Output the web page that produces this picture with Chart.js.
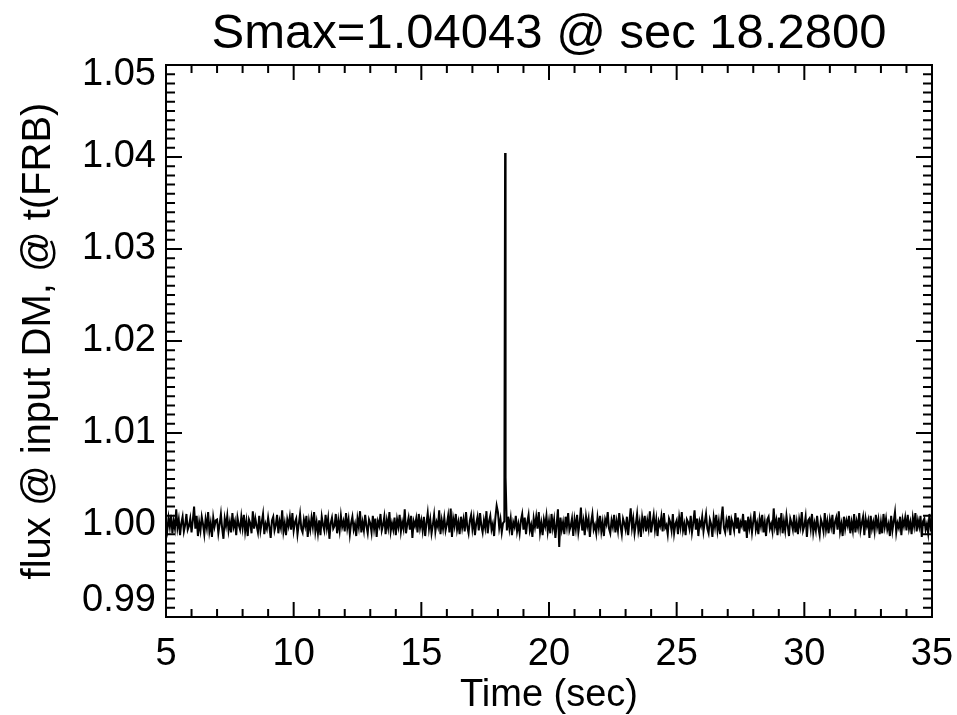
<!DOCTYPE html>
<html>
<head>
<meta charset="utf-8">
<title>Smax</title>
<script src="https://cdn.jsdelivr.net/npm/chart.js@4.4.1/dist/chart.umd.min.js"></script>
<style>
  html, body { margin: 0; padding: 0; background: #fff; }
  #wrap { width: 957px; height: 715px; }
</style>
</head>
<body>
<div id="wrap"><canvas id="fluxChart" width="957" height="715"></canvas></div>
<script>
/* ---- Dados ---- */
const titleText  = 'Smax=1.04043 @ sec 18.2800';
const xAxisTitle = 'Time (sec)';
const yAxisTitle = 'flux @ input DM, @ t(FRB)';

const xTicks = [5, 10, 15, 20, 25, 30, 35];
const yTicks = [0.99, 1.00, 1.01, 1.02, 1.03, 1.04, 1.05];
const xMinorPerMajor = 5;   // 1 s
const yMinorPerMajor = 10;  // 0.001

// amostragem da série de fundo
const sampleStart = 5.0;
const sampleStep  = 0.05;
// desvio do fluxo em relação a 1, em unidades de 1e-4 (uma linha = 1 s)
const fluxNoise = [
  3,-6,8,-2,11,-9,4,-4,17,-3,6,-11,2,9,-7,0,12,-5,-1,7,
  -8,5,20,-4,10,-12,3,-6,9,1,-10,6,-3,14,-7,2,-13,8,-2,5,
  6,-9,1,12,-4,-15,7,-1,10,-6,3,-8,13,-2,4,-11,8,0,-5,9,
  -3,11,-7,4,-12,6,2,-9,15,-4,7,-1,-8,10,-6,3,12,-10,1,-4,
  8,-2,-14,5,9,-6,0,11,-9,4,-3,16,-7,2,-11,6,-1,9,-5,13,
  -6,3,7,-10,1,12,-4,-8,6,-1,10,-13,4,-5,8,-2,14,-7,3,-9,
  5,-11,9,0,-6,11,-3,7,-15,2,8,-4,-1,12,-9,5,-6,10,-2,4,
  -7,13,-3,6,-10,2,9,-5,1,-12,7,-2,15,-8,3,-6,11,-1,-9,6,
  2,-8,10,-4,7,-13,4,-1,12,-6,0,9,-10,5,-3,14,-7,2,-5,8,
  -11,6,-2,11,-7,3,-4,17,-9,1,8,-5,10,-14,4,-1,7,-8,12,-3,
  5,-6,9,-12,2,13,-4,6,-9,0,11,-7,3,-2,16,-10,5,-4,8,-6,
  1,10,-8,18,-13,7,-1,12,-5,3,-10,9,-3,6,-7,14,-2,-9,5,11,
  -4,7,-11,2,9,-6,13,-1,-8,5,-3,15,-9,4,10,-5,1,-12,8,21,
  14,-3,6,-8,2,4,52,-6,9,-4,7,-11,3,-2,10,-7,1,-9,5,12,
  -5,8,-10,3,11,-6,0,-13,7,-2,9,-4,14,-8,2,-11,6,-1,10,-7,
  4,-9,12,-3,6,-14,1,17,-24,8,-5,3,-10,9,-2,13,-6,-1,7,-12,
  6,-4,11,-8,2,19,-6,4,-11,9,-1,7,-13,3,12,-5,0,-9,8,-3,
  10,-7,3,-12,6,1,14,-4,-9,5,-2,11,-8,4,-6,13,-1,-10,7,2,
  -5,9,-11,4,18,-3,7,-9,1,12,-6,3,-13,8,-2,10,-7,5,-4,15,
  -8,2,11,-5,6,-12,4,-1,9,-7,13,-3,0,-10,7,3,-6,12,-9,1,
  5,-10,8,-2,14,-6,1,-11,6,3,-4,10,-8,2,16,-5,7,-12,4,-1,
  9,-7,3,12,-4,-9,6,1,-13,8,-2,11,-6,4,-10,7,20,-3,-8,5,
  -2,10,-11,6,1,-6,13,-4,8,-9,3,-1,12,-7,5,-14,9,-3,6,-8,
  4,15,-5,2,-10,7,-1,11,-8,3,-12,6,9,-4,1,-7,18,-2,5,-11,
  8,-3,13,-9,4,-6,10,-1,-12,7,2,-5,11,-8,3,-10,6,-2,14,-6,
  -1,9,-13,5,7,-4,12,-8,2,-6,10,-3,-11,6,1,-7,13,-5,4,-9,
  6,-2,11,-10,3,8,-5,15,-7,1,-12,9,-4,5,-1,10,-9,3,-6,12,
  -8,4,-3,13,-6,2,9,-11,7,-1,5,-14,10,-4,3,-7,11,-2,6,-10,
  3,-9,12,-2,7,-5,1,-12,10,-6,4,14,-8,2,-3,9,-11,6,-1,8,
  -6,11,-4,3,-10,8,-1,13,-7,5,-2,10,-13,4,7,-5,1,-9,12,-3,
  2
];

// o pulso (FRB)
const burstTime = [18.28];
const burstFlux = [1.04043];

/* ---- Monta a série ---- */
const points = fluxNoise.map((d, i) => ({ x: sampleStart + i * sampleStep, y: 1 + d * 1e-4 }));
burstTime.forEach((t, i) => points.push({ x: t, y: burstFlux[i] }));
points.sort((a, b) => a.x - b.x);

const FONT = "'Liberation Sans', Arial, Helvetica, sans-serif";

/* ---- Moldura, ticks para dentro, rótulos do eixo y e título (estilo IDL) ---- */
const idlFrame = {
  id: 'idlFrame',
  afterDatasetsDraw(chart) {
    const { ctx, chartArea: a, scales: { x, y } } = chart;
    ctx.save();
    ctx.strokeStyle = '#000';
    ctx.lineWidth = 2;
    ctx.strokeRect(a.left, a.top, a.right - a.left, a.bottom - a.top);
    ctx.beginPath();

    // eixo x (baixo e cima)
    xTicks.forEach((v, i) => {
      const px = x.getPixelForValue(v);
      ctx.moveTo(px, a.bottom); ctx.lineTo(px, a.bottom - 15);
      ctx.moveTo(px, a.top);    ctx.lineTo(px, a.top + 15);
      if (i < xTicks.length - 1) {
        const step = (xTicks[i + 1] - v) / xMinorPerMajor;
        for (let k = 1; k < xMinorPerMajor; k++) {
          const pm = x.getPixelForValue(v + k * step);
          ctx.moveTo(pm, a.bottom); ctx.lineTo(pm, a.bottom - 8);
          ctx.moveTo(pm, a.top);    ctx.lineTo(pm, a.top + 8);
        }
      }
    });

    // eixo y (esquerda e direita)
    yTicks.forEach((v, i) => {
      const py = y.getPixelForValue(v);
      ctx.moveTo(a.left, py);  ctx.lineTo(a.left + 16, py);
      ctx.moveTo(a.right, py); ctx.lineTo(a.right - 16, py);
      if (i < yTicks.length - 1) {
        const step = (yTicks[i + 1] - v) / yMinorPerMajor;
        for (let k = 1; k < yMinorPerMajor; k++) {
          const pm = y.getPixelForValue(v + k * step);
          ctx.moveTo(a.left, pm);  ctx.lineTo(a.left + 9, pm);
          ctx.moveTo(a.right, pm); ctx.lineTo(a.right - 9, pm);
        }
      }
    });
    ctx.stroke();

    // rótulos do eixo y: os das pontas ficam dentro do intervalo (como no IDL)
    ctx.fillStyle = '#000';
    ctx.font = '38px ' + FONT;
    ctx.textAlign = 'right';
    ctx.textBaseline = 'middle';
    yTicks.forEach(v => {
      const py = Math.min(Math.max(y.getPixelForValue(v), a.top + 10), a.bottom - 16);
      ctx.fillText(v.toFixed(2), a.left - 10, py);
    });

    // título centrado sobre a área do gráfico
    ctx.font = '49px ' + FONT;
    ctx.textAlign = 'center';
    ctx.textBaseline = 'alphabetic';
    ctx.fillText(titleText, (a.left + a.right) / 2, 48);
    ctx.restore();
  }
};

new Chart(document.getElementById('fluxChart').getContext('2d'), {
  type: 'line',
  data: {
    datasets: [{
      data: points,
      borderColor: '#000',
      borderWidth: 2,
      pointRadius: 0,
      tension: 0,
      fill: false
    }]
  },
  options: {
    responsive: false,
    animation: false,
    devicePixelRatio: 1,
    layout: { padding: { left: 0, right: 25, top: 65, bottom: 0 } },
    plugins: {
      legend: { display: false },
      tooltip: { enabled: false },
      title: { display: false }
    },
    scales: {
      x: {
        type: 'linear',
        min: xTicks[0],
        max: xTicks[xTicks.length - 1],
        afterFit: s => { s.height = 98; s.paddingLeft = 0; s.paddingRight = 0; },
        afterBuildTicks: s => { s.ticks = xTicks.map(v => ({ value: v })); },
        grid: { display: false, drawTicks: false },
        border: { display: false },
        ticks: {
          color: '#000',
          padding: 19,
          maxRotation: 0,
          font: { family: FONT, size: 38, lineHeight: 1 },
          callback: v => String(v)
        },
        title: {
          display: true,
          text: xAxisTitle,
          color: '#000',
          font: { family: FONT, size: 38, lineHeight: 1 },
          padding: { top: -4, bottom: 0 }
        }
      },
      y: {
        type: 'linear',
        min: yTicks[0],
        max: yTicks[yTicks.length - 1],
        afterFit: s => { s.width = 166; },
        afterBuildTicks: s => { s.ticks = yTicks.map(v => ({ value: v })); },
        grid: { display: false, drawTicks: false },
        border: { display: false },
        ticks: { display: false },
        title: {
          display: true,
          text: yAxisTitle,
          color: '#000',
          font: { family: FONT, size: 40, lineHeight: 1 },
          padding: { top: 19, bottom: 0 }
        }
      }
    }
  },
  plugins: [idlFrame]
});
</script>
</body>
</html>
